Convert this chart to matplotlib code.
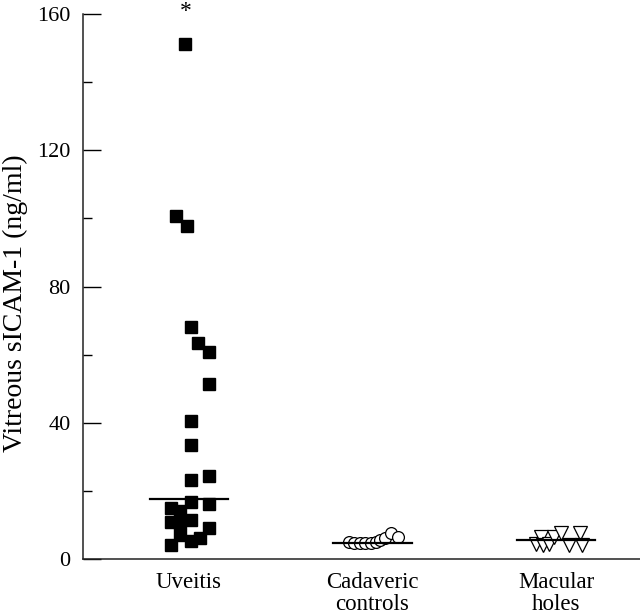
#!/usr/bin/env python
import matplotlib
matplotlib.use("Agg")
import matplotlib.pyplot as plt
from matplotlib.ticker import MultipleLocator

groups = ["Uveitis", "Cadaveric\ncontrols", "Macular\nholes"]

uveitis = [151.2, 100.7, 97.8, 68.1, 63.4, 60.8, 51.4, 40.5, 33.5, 24.5, 23.2,
           16.7, 16.1, 15.0, 14.1, 11.5, 10.9, 10.6, 9.1, 7.0, 6.2, 5.3, 4.1]
uveitis_jitter = [-0.02, -0.07, -0.01, 0.01, 0.05, 0.11, 0.11, 0.01, 0.01, 0.11, 0.01,
                  0.01, 0.11, -0.10, -0.05, 0.01, -0.10, -0.05, 0.11, -0.05, 0.06, 0.01, -0.10]

cadaveric = [5.1, 4.8, 4.6, 4.6, 4.8, 5.1, 5.6, 6.1, 7.6, 6.5]
cadaveric_jitter = [-0.13, -0.10, -0.07, -0.04, -0.01, 0.02, 0.04, 0.07, 0.10, 0.14]

macular = [4.4, 6.4, 4.1, 4.4, 6.5, 7.7, 4.1, 7.7, 4.1]
macular_jitter = [-0.11, -0.08, -0.07, -0.04, -0.01, 0.03, 0.07, 0.13, 0.14]

medians = [17.5, 4.8, 5.6]

serif = ["Liberation Serif", "DejaVu Serif"]

fig = plt.figure(figsize=(6.4, 6.16), dpi=100)
ax = fig.add_axes([83 / 640, 57 / 616, 557 / 640, 545 / 616])

ax.plot([1 + j for j in uveitis_jitter], uveitis, "s", color="black",
        markersize=8, linestyle="none", clip_on=False)
ax.plot([2 + j for j in cadaveric_jitter], cadaveric, "o", markerfacecolor="white",
        markeredgecolor="black", markeredgewidth=0.9, markersize=8.5, linestyle="none")
ax.plot([3 + j for j in macular_jitter], macular, "v", markerfacecolor="white",
        markeredgecolor="black", markeredgewidth=0.9, markersize=9.5, linestyle="none")

for i, m in enumerate(medians):
    ax.plot([i + 1 - 0.215, i + 1 + 0.215], [m, m], color="black", lw=1.6)

# significance mark above the top uveitis point
ax.text(1 - 0.02, 163.7, "*", ha="center", va="top", fontsize=17,
        family=serif, clip_on=False)

ax.set_xlim(0.422, 3.458)
ax.set_ylim(0, 160)
ax.set_xticks([1, 2, 3])
ax.set_xticklabels(groups, family=serif, fontsize=16.5, linespacing=1.12)
ax.tick_params(axis="x", length=0, pad=9)

ax.yaxis.set_major_locator(MultipleLocator(40))
ax.yaxis.set_minor_locator(MultipleLocator(20))
ax.tick_params(axis="y", which="major", direction="in", length=13, width=1, pad=9,
               labelsize=16)
ax.tick_params(axis="y", which="minor", direction="in", length=6.5, width=1)
for lab in ax.get_yticklabels():
    lab.set_family(serif)

for s in ["top", "right"]:
    ax.spines[s].set_visible(False)
for s in ["left", "bottom"]:
    ax.spines[s].set_linewidth(1.1)
    ax.spines[s].set_color("#222222")

fig.text(15 / 640, 1 - 303 / 616, "Vitreous sICAM-1 (ng/ml)", rotation=90,
         ha="center", va="center", fontsize=20, family=serif)

fig.savefig("out.png", dpi=100)
